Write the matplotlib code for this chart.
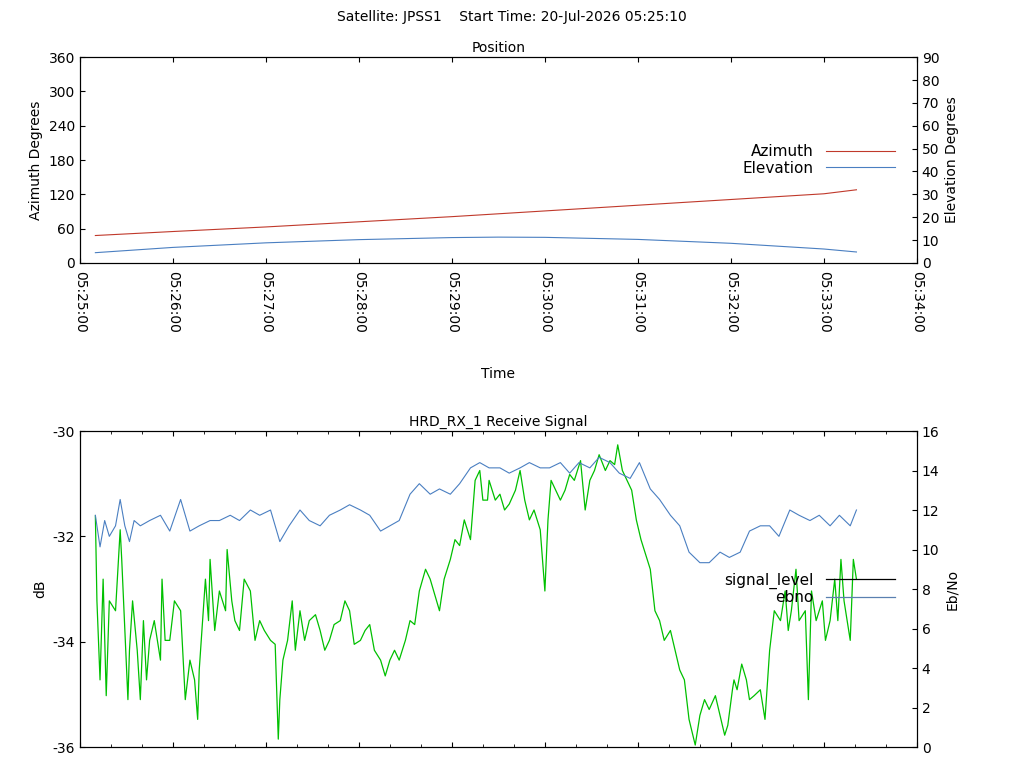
import matplotlib
matplotlib.use('Agg')
import matplotlib.pyplot as plt
import matplotlib.ticker as mticker

# ── Position data (seconds after 05:25:00) ──
pos_t = [10, 60, 120, 180, 240, 270, 300, 360, 420, 480, 501]
azimuth = [48, 55, 63, 72, 81, 86, 91, 101, 111, 121, 128]
elevation = [4.5, 6.8, 8.8, 10.2, 11.1, 11.3, 11.2, 10.3, 8.6, 6.1, 4.8]

# ── Receive signal data ──
sig_t = [10, 13, 16, 19, 23, 26, 29, 32, 35, 39,
         45, 52, 58, 65, 71, 77, 84, 90, 97, 103, 110, 116, 123, 129, 135, 142,
         148, 155, 161, 168, 174, 181, 187, 194, 200, 206, 213, 219, 226, 232,
         239, 245, 252, 258, 264, 271, 277, 284, 290, 297, 303, 310, 316, 322,
         329, 335, 342, 348, 355, 361, 368, 374, 381, 387, 393, 400, 406, 413,
         419, 426, 432, 439, 445, 451, 458, 464, 471, 477, 484, 490, 497, 501]
signal_db = [-31.6, -32.2, -31.7, -32.0, -31.8, -31.3, -31.8, -32.1, -31.7, -31.8,
             -31.7, -31.6, -31.9, -31.3, -31.9, -31.8, -31.7, -31.7, -31.6, -31.7,
             -31.5, -31.6, -31.5, -32.1, -31.8, -31.5, -31.7, -31.8, -31.6, -31.5,
             -31.4, -31.5, -31.6, -31.9, -31.8, -31.7, -31.2, -31.0, -31.2, -31.1,
             -31.2, -31.0, -30.7, -30.6, -30.7, -30.7, -30.8, -30.7, -30.6, -30.7,
             -30.7, -30.6, -30.8, -30.6, -30.7, -30.5, -30.6, -30.8, -30.9, -30.6,
             -31.1, -31.3, -31.6, -31.8, -32.3, -32.5, -32.5, -32.3, -32.4, -32.3,
             -31.9, -31.8, -31.8, -32.0, -31.5, -31.6, -31.7, -31.6, -31.8, -31.6,
             -31.8, -31.5]

ebno_t = [10, 11, 13, 15, 17, 19, 23, 26, 27, 29, 31, 32, 34, 37, 39, 41, 43, 45,
          48, 52, 53, 55, 58, 61, 65, 66, 68, 71, 74, 76, 77, 81, 83, 84, 87, 90,
          94, 95, 98, 100, 103, 106, 110, 113, 116, 119, 123, 126, 128, 129, 131,
          134, 137, 139, 142, 145, 148, 152, 155, 158, 161, 164, 168, 171, 174,
          177, 181, 184, 187, 190, 194, 197, 200, 203, 206, 210, 213, 216, 219,
          223, 226, 229, 232, 235, 239, 242, 245, 248, 252, 255, 258, 260, 263,
          264, 268, 271, 274, 277, 281, 284, 287, 290, 293, 297, 300, 302, 304,
          307, 310, 313, 316, 319, 323, 326, 329, 332, 335, 339, 342, 345, 347,
          350, 353, 356, 359, 362, 366, 368, 371, 374, 377, 381, 384, 387, 390,
          393, 397, 400, 403, 406, 410, 413, 416, 418, 421, 422, 424, 427, 430,
          432, 435, 439, 442, 445, 448, 452, 455, 457, 459, 462, 464, 468, 470,
          472, 475, 479, 481, 484, 487, 489, 491, 493, 497, 499, 501]
ebno = [11.7, 7.4, 3.4, 8.5, 2.6, 7.4, 6.9, 11.0, 9.5, 5.9, 2.4, 4.9, 7.4, 4.9,
        2.4, 6.4, 3.4, 5.4, 6.4, 4.4, 8.5, 5.4, 5.4, 7.4, 6.9, 5.4, 2.4, 4.4,
        3.4, 1.4, 3.9, 8.5, 6.4, 9.5, 5.9, 7.9, 6.9, 10.0, 7.4, 6.4, 5.9, 8.5,
        7.9, 5.4, 6.4, 5.9, 5.4, 5.2, 0.4, 2.4, 4.4, 5.4, 7.4, 4.9, 6.9, 5.4,
        6.4, 6.7, 5.9, 4.9, 5.4, 6.2, 6.4, 7.4, 6.9, 5.2, 5.4, 5.9, 6.2, 4.9,
        4.4, 3.6, 4.4, 4.9, 4.4, 5.4, 6.4, 6.2, 7.9, 9.0, 8.5, 7.7, 6.9, 8.5,
        9.5, 10.5, 10.2, 11.5, 10.5, 13.5, 14.0, 12.5, 12.5, 13.5, 12.5, 12.8,
        12.0, 12.3, 13.0, 14.0, 12.5, 11.5, 12.0, 11.0, 7.9, 11.5, 13.5, 13.0,
        12.5, 13.0, 13.8, 13.5, 14.5, 12.0, 13.5, 14.0, 14.8, 14.0, 14.5, 14.3,
        15.3, 14.0, 13.5, 13.0, 11.5, 10.5, 9.5, 9.0, 6.9, 6.4, 5.4, 5.9, 4.9,
        3.9, 3.4, 1.4, 0.1, 1.6, 2.4, 1.9, 2.6, 1.6, 0.6, 1.1, 2.9, 3.4, 2.9,
        4.2, 3.4, 2.4, 2.6, 2.9, 1.4, 4.9, 6.9, 6.4, 7.9, 5.9, 6.9, 9.0, 6.4,
        6.9, 2.4, 7.9, 6.4, 7.4, 5.4, 6.4, 8.5, 6.4, 9.5, 7.4, 5.4, 9.5, 8.5]

TIME_LABELS = ['05:25:00', '05:26:00', '05:27:00', '05:28:00', '05:29:00',
               '05:30:00', '05:31:00', '05:32:00', '05:33:00', '05:34:00']

RED = '#c0392b'
BLUE = '#4a7fc1'
GREEN = '#00c000'

plt.rcParams['font.family'] = 'DejaVu Sans'
plt.rcParams['font.size'] = 10
plt.rcParams['axes.unicode_minus'] = False


def style(ax):
    ax.tick_params(direction='in', which='both', top=True)
    ax.set_xlim(0, 540)
    ax.set_xticks(range(0, 541, 60))


fig = plt.figure(figsize=(10.24, 7.68), dpi=100)
fig.text(0.5, 0.978, 'Satellite: JPSS1    Start Time: 20-Jul-2026 05:25:10',
         ha='center', va='center')

# ── Position panel ──
ax1 = fig.add_axes([0.078, 0.6576, 0.8174, 0.268])
style(ax1)
ax1.set_xticklabels(TIME_LABELS, rotation=-90, va='top')
ax1.tick_params(axis='x', pad=6)
ax1.set_ylim(0, 360)
ax1.set_yticks(range(0, 361, 60))
ax1.tick_params(axis='y', right=False)
ax1.set_ylabel('Azimuth Degrees')
ax1.set_xlabel('Time', labelpad=24)
ax1.set_title('Position', fontsize=10, pad=4)
ax1.plot(pos_t, azimuth, color=RED, lw=0.8)
ax1b = ax1.twinx()
ax1b.set_ylim(0, 90)
ax1b.set_yticks(range(0, 91, 10))
ax1b.tick_params(direction='in')
ax1b.set_ylabel('Elevation Degrees')
ax1b.plot(pos_t, elevation, color=BLUE, lw=0.8)
ax1b.legend([plt.Line2D([], [], color=RED, lw=0.8),
             plt.Line2D([], [], color=BLUE, lw=0.8)],
            ['Azimuth', 'Elevation'], loc='center right',
            bbox_to_anchor=(0.99, 0.5), frameon=False, markerfirst=False,
            handlelength=4.5, fontsize=11, labelspacing=0.1)

# ── Receive signal panel ──
ax2 = fig.add_axes([0.078, 0.0273, 0.8174, 0.4115])
style(ax2)
ax2.xaxis.set_minor_locator(mticker.MultipleLocator(20))
ax2.set_xticklabels([])
ax2.set_ylim(-36, -30)
ax2.set_yticks(range(-36, -29, 2))
ax2.tick_params(axis='y', right=False)
ax2.set_ylabel('dB')
ax2.set_title('HRD_RX_1 Receive Signal', fontsize=10, pad=4)
ax2b = ax2.twinx()
ax2b.set_ylim(0, 16)
ax2b.set_yticks(range(0, 17, 2))
ax2b.tick_params(direction='in')
ax2b.set_ylabel('Eb/No')
ax2b.plot(ebno_t, ebno, color=GREEN, lw=0.9)
ax2.plot(sig_t, signal_db, color=BLUE, lw=0.8)
ax2.set_zorder(ax2b.get_zorder() + 1)
ax2.patch.set_visible(False)
ax2.legend([plt.Line2D([], [], color='black', lw=0.9),
            plt.Line2D([], [], color='#5a80b0', lw=0.9)],
           ['signal_level', 'ebno'], loc='center right',
           bbox_to_anchor=(0.99, 0.5), frameon=False, markerfirst=False,
           handlelength=4.5, fontsize=11, labelspacing=0.1)

fig.savefig('out.png', dpi=100)
